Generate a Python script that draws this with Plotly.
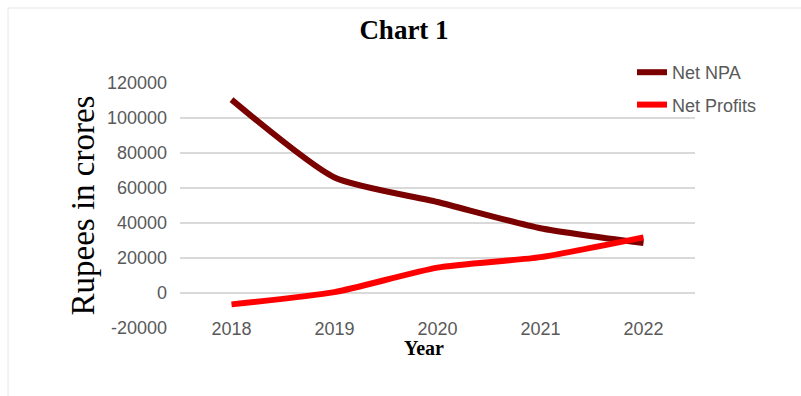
import plotly.graph_objects as go

years = ["2018", "2019", "2020", "2021", "2022"]
net_npa = [110500, 66000, 52000, 37000, 28500]
net_profits = [-6500, 500, 14500, 20500, 31800]
y_ticks = [-20000, 0, 20000, 40000, 60000, 80000, 100000, 120000]
y_tick_text = ["-20000", "0", "20000", "40000", "60000", "80000", "100000", "120000"]

SANS = "Liberation Sans, Arial, sans-serif"
SERIF = "Liberation Serif, Times New Roman, serif"

fig = go.Figure()
fig.add_trace(go.Scatter(x=years, y=net_npa, mode="lines", name="Net NPA", legendgroup="a",
                         line=dict(color="#7b0000", width=6, shape="spline", smoothing=0.6)))
fig.add_trace(go.Scatter(x=years, y=net_profits, mode="lines", name="Net Profits", legendgroup="b",
                         line=dict(color="#ff0000", width=6, shape="spline", smoothing=0.6)))

L, R, T, B = 180, 695, 83, 328
W, H = 801, 396

def px(x):
    return (x - L) / (R - L)

def py(y):
    return (B - y) / (B - T)

fig.update_layout(
    width=W, height=H,
    margin=dict(l=L, r=W - R, t=T, b=H - B),
    paper_bgcolor="white", plot_bgcolor="white",
    title=dict(text="<b>Chart 1</b>", x=404 / W, xanchor="center",
               y=1 - 30 / H, yanchor="middle", yref="container",
               font=dict(family=SERIF, size=27, color="#000000")),
    showlegend=True,
    legend=dict(x=px(632), xanchor="left", y=py(54), yanchor="top",
                font=dict(family=SANS, size=18, color="#595959"),
                bgcolor="rgba(0,0,0,0)", itemwidth=30, traceorder="grouped",
                tracegroupgap=6),
    xaxis=dict(type="category", range=[-0.5, 4.5], showgrid=False, showline=False,
               zeroline=False, ticks="", anchor="free", position=0.05,
               tickfont=dict(family=SANS, size=18, color="#595959")),
    yaxis=dict(range=[-20000, 120000], tickvals=y_ticks, ticktext=y_tick_text,
               showgrid=True, gridcolor="#d9d9d9", gridwidth=1.5, zeroline=False,
               showline=False, ticks="", ticklabelstandoff=12,
               tickfont=dict(family=SANS, size=18, color="#595959"),
               title=dict(text="Rupees in crores", standoff=2,
                          font=dict(family=SERIF, size=33, color="#000000"))),
    annotations=[dict(text="<b>Year</b>", xref="paper", yref="paper",
                      x=px(424), y=py(348), xanchor="center", yanchor="middle",
                      showarrow=False,
                      font=dict(family=SERIF, size=20, color="#000000"))],
    shapes=[dict(type="rect", xref="paper", yref="paper",
                 x0=px(8), x1=px(810), y0=py(410), y1=py(8),
                 line=dict(color="#e6e6e6", width=1), layer="below")],
)

fig.write_html("out.html")
